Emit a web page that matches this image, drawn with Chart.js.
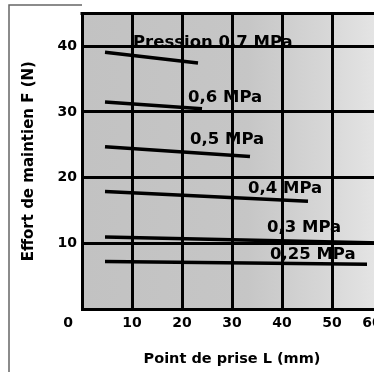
<!DOCTYPE html>
<html><head><meta charset="utf-8">
<script src="https://cdn.jsdelivr.net/npm/chart.js@4/dist/chart.umd.min.js"></script>
<style>
html,body{margin:0;padding:0;background:#fff;overflow:hidden;}
#wrap{position:relative;width:374px;height:372px;overflow:hidden;}
canvas{position:absolute;left:0;top:0;}
</style></head><body>
<div id="wrap"><canvas id="c" width="400" height="372"></canvas></div>
<script>
// Series: one straight segment per pressure (start / end points)
const pressureNames = ['Pression 0,7 MPa', '0,6 MPa', '0,5 MPa', '0,4 MPa', '0,3 MPa', '0,25 MPa'];
const startL = [4.6, 4.6, 4.6, 4.6, 4.6, 4.6];
const endL   = [23.2, 24, 33.6, 45.2, 60, 57];
const startF = [39.1, 31.5, 24.7, 17.9, 10.95, 7.25];
const endF   = [37.45, 30.5, 23.2, 16.4, 10.05, 6.8];
const xTicks = [0, 10, 20, 30, 40, 50, 60];
const yTicks = [0, 10, 20, 30, 40];
const xTitle = 'Point de prise L (mm)';
const yTitle = 'Effort de maintien F (N)';

// where each series label sits (data units: left edge, vertical centre)
const labelAnchorL = [10.2, 21.2, 21.6, 33.2, 37, 37.6];
const labelAnchorF = [40.56, 32.1, 25.75, 18.35, 12.3, 8.3];

const FAM = '"DejaVu Sans", sans-serif';
const xFirst = xTicks[0], xLast = xTicks[xTicks.length - 1];

const datasets = pressureNames.map((name, i) => ({
  label: name,
  data: [{x: startL[i], y: startF[i]}, {x: endL[i], y: endF[i]}],
  borderColor: '#000',
  borderWidth: 3.5,
  pointRadius: 0,
  fill: false,
  tension: 0
}));

const decor = {
  id: 'decor',
  beforeDraw(chart) {
    const {ctx, chartArea: a} = chart;
    ctx.save();
    const g = ctx.createLinearGradient(a.left, 0, a.right, 0);
    g.addColorStop(0, '#c2c2c2');
    g.addColorStop(0.55, '#c6c6c6');
    g.addColorStop(0.8, '#d6d6d6');
    g.addColorStop(1, '#e6e6e6');
    ctx.fillStyle = g;
    ctx.fillRect(a.left, a.top, a.right - a.left, a.bottom - a.top);
    // outer frame of the figure
    ctx.strokeStyle = '#666';
    ctx.lineWidth = 1.5;
    ctx.beginPath();
    ctx.moveTo(9, 372); ctx.lineTo(9, 5); ctx.lineTo(a.left, 5);
    ctx.stroke();
    ctx.restore();
  },
  afterDatasetsDraw(chart) {
    const {ctx, chartArea: a, scales: {x, y}} = chart;
    ctx.save();
    ctx.strokeStyle = '#000';
    ctx.lineWidth = 3;
    ctx.beginPath();
    ctx.moveTo(a.left - 1.5, a.top); ctx.lineTo(a.right, a.top);
    ctx.stroke();
    ctx.fillStyle = '#000';
    ctx.font = 'bold 14px ' + FAM;
    ctx.textAlign = 'center';
    ctx.textBaseline = 'middle';
    // corner labels of the x axis, set slightly off their grid positions as in the print
    ctx.fillText(String(xFirst), x.getPixelForValue(xFirst) - 14, a.bottom + 14.5);
    ctx.fillText(String(xLast), x.getPixelForValue(xLast) - 10, a.bottom + 14.5);
    ctx.font = 'bold 16.5px ' + FAM;
    ctx.textAlign = 'left';
    pressureNames.forEach((name, i) => {
      ctx.fillText(name, x.getPixelForValue(labelAnchorL[i]), y.getPixelForValue(labelAnchorF[i]));
    });
    ctx.restore();
  }
};

new Chart(document.getElementById('c'), {
  type: 'line',
  data: {datasets},
  plugins: [decor],
  options: {
    responsive: false,
    animation: false,
    layout: {padding: {top: 5, right: 18, left: 0, bottom: 0}},
    plugins: {legend: {display: false}, tooltip: {enabled: false}},
    scales: {
      x: {
        type: 'linear', min: xFirst, max: xLast,
        afterBuildTicks: s => { s.ticks = xTicks.map(v => ({value: v})); },
        afterFit: s => { s.height = 63; },
        ticks: {
          callback: v => (v === xFirst || v === xLast ? '' : String(v)),
          color: '#000', padding: 6, maxRotation: 0, autoSkip: false,
          font: {family: FAM, size: 14, weight: 'bold'}
        },
        grid: {
          drawTicks: false, lineWidth: 3,
          color: c => (c.tick && c.tick.value > xFirst && c.tick.value < xLast) ? '#000' : 'rgba(0,0,0,0)'
        },
        border: {display: true, color: '#000', width: 3},
        title: {
          display: true, text: xTitle, color: '#000',
          font: {family: FAM, size: 14.5, weight: 'bold'},
          padding: {top: 0, bottom: 4.3}
        }
      },
      y: {
        type: 'linear', min: 0, max: 45,
        afterBuildTicks: s => { s.ticks = yTicks.map(v => ({value: v})); },
        afterFit: s => { s.width = 82; },
        ticks: {
          callback: v => (v === 0 ? '' : String(v)),
          color: '#000', padding: 5,
          font: {family: FAM, size: 14, weight: 'bold'}
        },
        grid: {
          drawTicks: false, lineWidth: 3,
          color: c => (c.tick && c.tick.value > 0) ? '#000' : 'rgba(0,0,0,0)'
        },
        border: {display: true, color: '#000', width: 3},
        title: {
          display: true, text: yTitle, color: '#000',
          font: {family: FAM, size: 15, weight: 'bold'},
          padding: {top: 20.5, bottom: 0}
        }
      }
    }
  }
});
</script>
</body></html>
